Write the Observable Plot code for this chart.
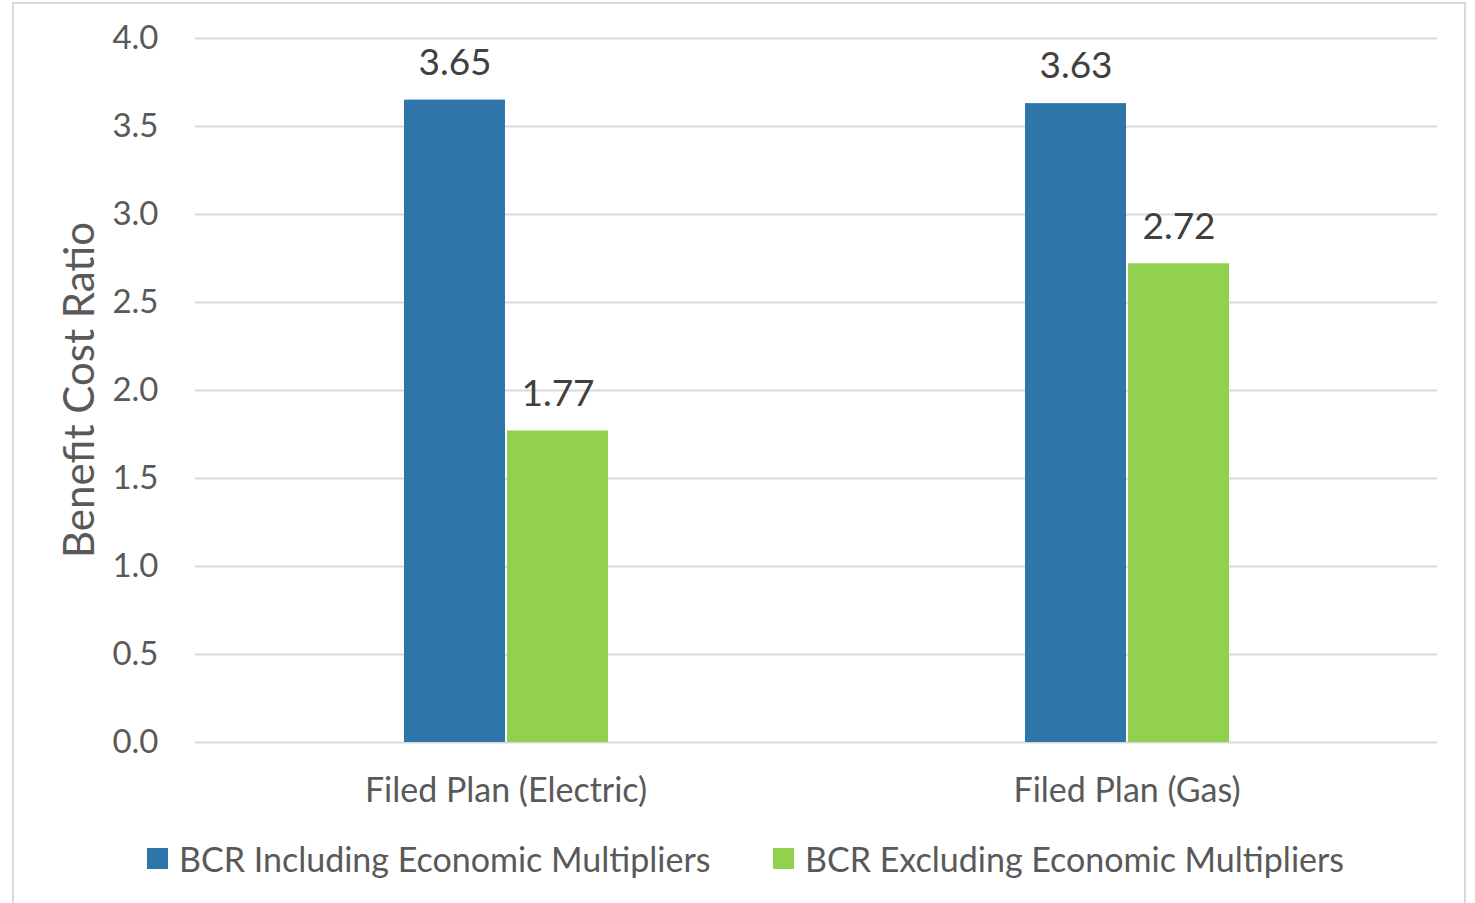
<!DOCTYPE html>
<html>
<head>
<meta charset="utf-8">
<script src="https://cdn.jsdelivr.net/npm/d3@7"></script>
<script src="https://cdn.jsdelivr.net/npm/@observablehq/plot@0.6"></script>
<style>
  html, body { margin: 0; padding: 0; background: #fff; }
  body { width: 1475px; height: 903px; overflow: hidden; position: relative; font-family: Lato, "Open Sans", sans-serif; }
  #frame { position: absolute; left: 12px; top: 2px; width: 1454px; height: 940px; border: 2px solid #d9d9d9; box-sizing: border-box; pointer-events: none; }
  #chart { position: absolute; left: 0; top: 0; }
  #legend { position: absolute; left: 0; top: 838px; width: 1475px; height: 40px; font-size: 34px; color: #595959; }
  .item { position: absolute; top: 0; display: flex; align-items: center; height: 40px; }
  .sw { width: 21px; height: 21px; margin-right: 11px; }
</style>
</head>
<body>
<div id="chart"></div>
<div id="legend"></div>
<div id="frame"></div>
<script>
const categories = ["Filed Plan (Electric)", "Filed Plan (Gas)"];
const series = ["BCR Including Economic Multipliers", "BCR Excluding Economic Multipliers"];
const includingValues = [3.65, 3.63];
const excludingValues = [1.77, 2.72];
const seriesColors = ["#2E76A9", "#92D050"];
const yTicks = [0, 0.5, 1.0, 1.5, 2.0, 2.5, 3.0, 3.5, 4.0];
const yTitle = "Benefit Cost Ratio";

const data = [];
categories.forEach((c, i) => {
  data.push({category: c, series: series[0], value: includingValues[i]});
  data.push({category: c, series: series[1], value: excludingValues[i]});
});

const W = 1475, H = 835;
const chart = Plot.plot({
  width: W,
  height: H,
  marginLeft: 195,
  marginRight: 38,
  marginTop: 38,
  marginBottom: H - 742,
  style: { fontFamily: "Lato, 'Open Sans', sans-serif", background: "transparent" },
  fx: { domain: categories, padding: 0, label: null },
  x: { domain: series, paddingInner: 0.02, paddingOuter: 2.02, axis: null },
  y: { domain: [0, 4], label: null },
  color: { domain: series, range: seriesColors },
  marks: [
    Plot.gridY(yTicks, { stroke: "#d9d9d9", strokeOpacity: 1, strokeWidth: 2 }),
    Plot.axisY(yTicks, { tickSize: 0, tickPadding: 37, tickFormat: d3.format(".1f"), fontSize: 33, color: "#595959", label: null }),
    Plot.axisFx({ anchor: "bottom", tickSize: 0, tickPadding: 35, fontSize: 34, color: "#595959", label: null }),
    Plot.barY(data, { fx: "category", x: "series", y: "value", fill: "series" }),
    Plot.text(data, { fx: "category", x: "series", y: "value", text: d => d3.format(".2f")(d.value), dy: -37, fontSize: 37, fill: "#404040" })
  ]
});
document.getElementById("chart").appendChild(chart);

d3.select(chart).append("text")
  .attr("transform", `translate(78,${(38 + 742) / 2}) rotate(-90)`)
  .attr("text-anchor", "middle")
  .attr("dominant-baseline", "central")
  .attr("font-size", 42)
  .attr("fill", "#595959")
  .attr("font-family", "Lato, 'Open Sans', sans-serif")
  .text(yTitle);

const legend = document.getElementById("legend");
const legendX = [147, 773];
series.forEach((s, i) => {
  const it = document.createElement("div");
  it.className = "item";
  it.style.left = legendX[i] + "px";
  const sw = document.createElement("div");
  sw.className = "sw";
  sw.style.background = seriesColors[i];
  const tx = document.createElement("span");
  tx.textContent = s;
  it.appendChild(sw);
  it.appendChild(tx);
  legend.appendChild(it);
});
</script>
</body>
</html>
